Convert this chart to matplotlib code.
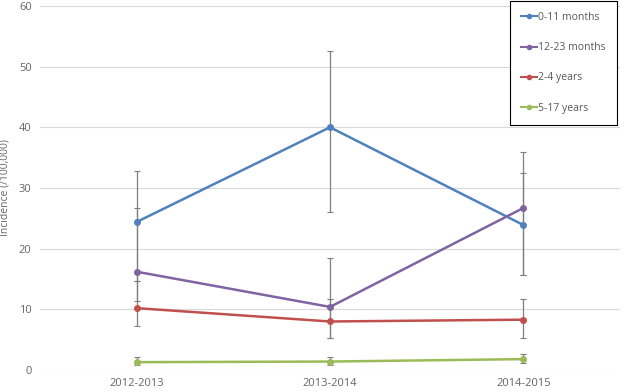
import matplotlib
matplotlib.use("Agg")
import matplotlib.pyplot as plt
import numpy as np

plt.rcParams['font.family'] = ['Open Sans', 'DejaVu Sans']

seasons = ["2012-2013", "2013-2014", "2014-2015"]
labels = ["0-11 months", "12-23 months", "2-4 years", "5-17 years"]

inc_0_11 = [24.4, 40.0, 23.9]
inc_12_23 = [16.2, 10.4, 26.7]
inc_2_4 = [10.2, 8.0, 8.3]
inc_5_17 = [1.3, 1.4, 1.8]

# confidence limits
lo_0_11 = [14.6, 26.1, 15.6]
hi_0_11 = [32.8, 52.6, 32.5]
lo_12_23 = [11.4, 5.2, 15.6]
hi_12_23 = [26.7, 18.4, 35.9]
lo_2_4 = [7.2, 5.2, 5.2]
hi_2_4 = [14.6, 11.7, 11.7]
lo_5_17 = [0.8, 0.8, 1.1]
hi_5_17 = [2.1, 2.1, 2.6]

colors = ["#4F81BD", "#8064A2", "#C0504D", "#9BBB59"]

series = [(inc_0_11, lo_0_11, hi_0_11),
          (inc_12_23, lo_12_23, hi_12_23),
          (inc_2_4, lo_2_4, hi_2_4),
          (inc_5_17, lo_5_17, hi_5_17)]

fig = plt.figure(figsize=(6.25, 3.92), dpi=100)
ax = fig.add_axes([0.064, 0.056, 0.928, 0.929])

x = np.arange(len(seasons))
for (vals, lo, hi), c, lab in zip(series, colors, labels):
    vals = np.array(vals)
    err = [vals - np.array(lo), np.array(hi) - vals]
    ax.errorbar(x, vals, yerr=err, fmt='none', ecolor='#7f7f7f',
                elinewidth=0.9, capsize=2, capthick=0.8, zorder=2)
    ax.plot(x, vals, color=c, lw=1.8, marker='o', ms=4, label=lab, zorder=3)

ax.set_xlim(-0.5, 2.5)
ax.set_ylim(0, 60)
ax.set_yticks(range(0, 61, 10))
ax.set_xticks(x)
ax.set_xticklabels(seasons)
ax.tick_params(length=0, labelsize=8, colors='#666666', pad=6)
ax.grid(axis='y', color='#d9d9d9', lw=0.8)
ax.set_axisbelow(True)
for s in ax.spines.values():
    s.set_visible(False)
ax.set_ylabel("Incidence (/100,000)", fontsize=7.5, color='#666666', labelpad=6)

leg = ax.legend(loc='upper right', bbox_to_anchor=(617 / 625, 1 - 1 / 392),
                bbox_transform=fig.transFigure, fontsize=7.5, handlelength=1.6,
                handletextpad=0.1, labelspacing=1.85, borderpad=1.05,
                fancybox=False, framealpha=1, edgecolor='black',
                borderaxespad=0)
leg.get_frame().set_linewidth(0.8)
for t in leg.get_texts():
    t.set_color('#595959')
for h in leg.legend_handles:
    h.set_markersize(3)
    h.set_linewidth(1.5)

fig.savefig("out.png", dpi=100)
